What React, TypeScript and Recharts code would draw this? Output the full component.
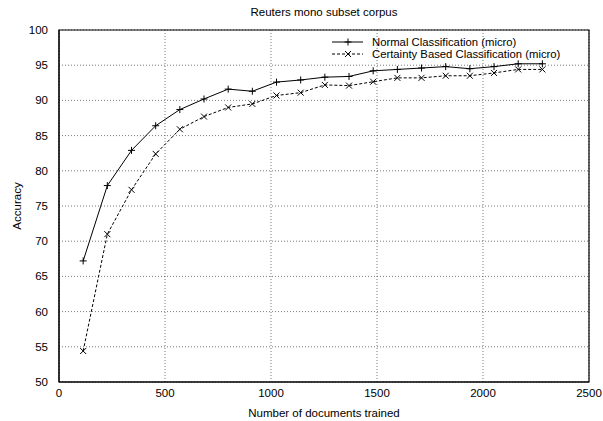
import React from "react";
import {
  LineChart, Line, XAxis, YAxis, CartesianGrid, Legend, ReferenceArea, Label,
} from "recharts";

const docs = [114, 228, 342, 456, 570, 684, 798, 912, 1026, 1140, 1254, 1368, 1482, 1596, 1710, 1824, 1938, 2052, 2166, 2280];
const normal = [67.2, 77.9, 82.9, 86.4, 88.7, 90.2, 91.6, 91.3, 92.6, 92.9, 93.3, 93.4, 94.2, 94.4, 94.6, 94.8, 94.5, 94.8, 95.2, 95.2];
const certainty = [54.4, 71.0, 77.3, 82.4, 85.9, 87.7, 89.0, 89.5, 90.7, 91.1, 92.2, 92.1, 92.65, 93.2, 93.2, 93.5, 93.5, 93.9, 94.4, 94.4];
const xTicks = [0, 500, 1000, 1500, 2000, 2500];
const yTicks = [50, 55, 60, 65, 70, 75, 80, 85, 90, 95, 100];

const data = docs.map((d, i) => ({ docs: d, normal: normal[i], certainty: certainty[i] }));

const FONT = "'Liberation Sans', Arial, sans-serif";

const Plus = (p: any) => {
  const { cx, cy, key } = p;
  if (cx == null || cy == null) return <g key={key} />;
  return <path key={key} d={`M${cx - 3.5},${cy}H${cx + 3.5}M${cx},${cy - 3.5}V${cy + 3.5}`} stroke="#000" strokeWidth={1} fill="none" />;
};

const Cross = (p: any) => {
  const { cx, cy, key } = p;
  if (cx == null || cy == null) return <g key={key} />;
  const s = 3;
  return <path key={key} d={`M${cx - s},${cy - s}L${cx + s},${cy + s}M${cx - s},${cy + s}L${cx + s},${cy - s}`} stroke="#000" strokeWidth={1} fill="none" />;
};

function LegendBox() {
  const rows = [
    { label: "Normal Classification (micro)", dash: undefined as string | undefined, Mark: Plus },
    { label: "Certainty Based Classification (micro)", dash: "3 2", Mark: Cross },
  ];
  return (
    <svg width={260} height={30} style={{ display: "block" }}>
      {rows.map((r, i) => {
        const y = 6 + i * 12;
        return (
          <g key={r.label}>
            <line x1={6} x2={37} y1={y} y2={y} stroke="#000" strokeDasharray={r.dash} />
            {r.Mark({ cx: 22, cy: y })}
            <text x={46} y={y + 4} fontSize={11.3} fontFamily={FONT} fill="#000">{r.label}</text>
          </g>
        );
      })}
    </svg>
  );
}

export default function App() {
  return (
    <div style={{ position: "fixed", left: 0, top: 0, width: 603, height: 421, background: "#fff" }}>
      <div style={{ position: "absolute", left: 59, width: 530, top: 6, textAlign: "center", fontFamily: FONT, fontSize: 11.5, color: "#000" }}>
        Reuters mono subset corpus
      </div>
      <LineChart width={603} height={421} data={data} margin={{ top: 30, right: 14, left: 19, bottom: 0 }}>
        <CartesianGrid stroke="#555" strokeDasharray="1 2" strokeWidth={0.8} />
        <XAxis
          dataKey="docs" type="number" domain={[0, 2500]} ticks={xTicks} height={39}
          tickLine={false} axisLine={{ stroke: "#000" }} interval={0}
          tick={{ fontSize: 11.5, fontFamily: FONT, fill: "#000" }} tickMargin={1}
        >
          <Label value="Number of documents trained" position="insideBottom" offset={4}
            style={{ fontSize: 11.5, fontFamily: FONT, fill: "#000" }} />
        </XAxis>
        <YAxis
          type="number" domain={[50, 100]} ticks={yTicks} width={40}
          tickLine={false} axisLine={{ stroke: "#000" }} interval={0}
          tick={{ fontSize: 11.5, fontFamily: FONT, fill: "#000" }} tickMargin={5}
        >
          <Label value="Accuracy" angle={-90} position="insideLeft" offset={-2}
            style={{ fontSize: 11.5, fontFamily: FONT, fill: "#000", textAnchor: "middle" }} />
        </YAxis>
        <ReferenceArea x1={0} x2={2500} y1={50} y2={100} fill="none" stroke="#000" strokeWidth={1.2} />
        <Legend layout="vertical" align="center" verticalAlign="middle"
          wrapperStyle={{ top: 36, left: 326, width: 262 }} content={() => <LegendBox />} />
        <Line dataKey="normal" name="Normal Classification (micro)" stroke="#000" strokeWidth={1}
          dot={Plus} activeDot={false} isAnimationActive={false} />
        <Line dataKey="certainty" name="Certainty Based Classification (micro)" stroke="#000" strokeWidth={1}
          strokeDasharray="3 2" dot={Cross} activeDot={false} isAnimationActive={false} />
      </LineChart>
    </div>
  );
}
